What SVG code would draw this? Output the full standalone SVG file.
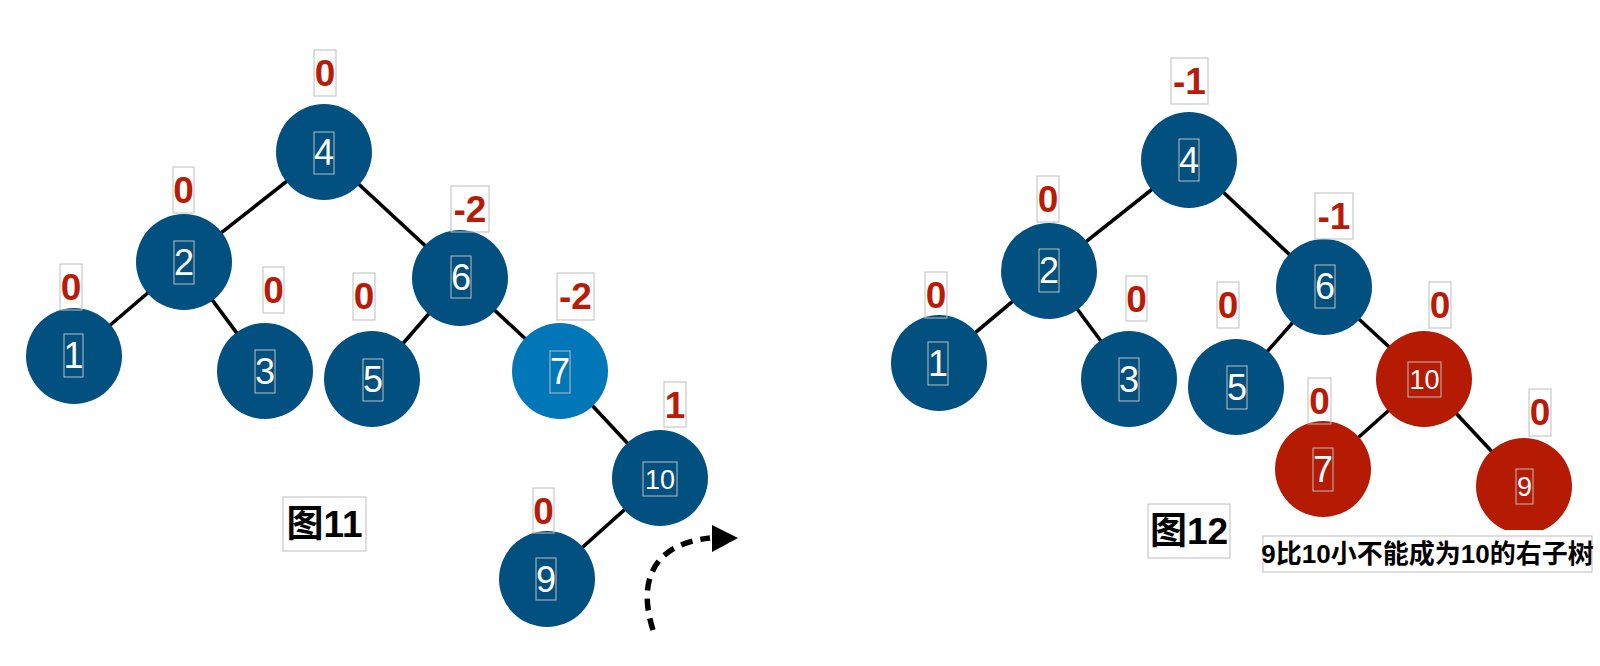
<svg xmlns="http://www.w3.org/2000/svg" width="1600" height="666" viewBox="0 0 1600 666">
<defs>
<style>
.n{fill:#02507f}
.nl{fill:#0277b8}
.nr{fill:#b51a02}
.t{font-family:"Liberation Sans",Arial,sans-serif;fill:#fff;font-size:36px;text-anchor:middle}
.ts{font-size:27px}
.b{font-family:"Liberation Sans",Arial,sans-serif;fill:#b81c08;font-size:37px;font-weight:bold;text-anchor:middle}
.bx{fill:none;stroke:#bdbdbd;stroke-width:1}
.e line{stroke:#000;stroke-width:3.6;stroke-linecap:butt}
.cap{font-family:"Liberation Sans","Noto Sans CJK SC",sans-serif;font-weight:bold;fill:#000;text-anchor:middle}
</style>
<clipPath id="clip9"><rect x="1460" y="420" width="140" height="110"/></clipPath>
</defs>
<rect width="1600" height="666" fill="#fff"/>
<g id="connectors" class="e">
<line x1="324" y1="152" x2="184" y2="262"/>
<line x1="324" y1="152" x2="460" y2="278"/>
<line x1="184" y1="262" x2="74" y2="356"/>
<line x1="184" y1="262" x2="265" y2="371"/>
<line x1="460" y1="278" x2="372" y2="379"/>
<line x1="460" y1="278" x2="560" y2="371"/>
<line x1="560" y1="371" x2="660" y2="478"/>
<line x1="660" y1="478" x2="547" y2="579"/>
<line x1="1189" y1="160" x2="1049" y2="271"/>
<line x1="1189" y1="160" x2="1324" y2="287"/>
<line x1="1049" y1="271" x2="939" y2="363"/>
<line x1="1049" y1="271" x2="1129" y2="379"/>
<line x1="1324" y1="287" x2="1236" y2="387"/>
<line x1="1324" y1="287" x2="1424" y2="379"/>
<line x1="1424" y1="379" x2="1323" y2="469"/>
<line x1="1424" y1="379" x2="1524" y2="486"/>
</g>
<g id="rotation-arrow">
<path d="M653,630 C640,590 645,545 710,538" fill="none" stroke="#000" stroke-width="5.5" stroke-dasharray="12,8"/>
<path d="M712,525 L738,538 L712,552 z" fill="#000"/>
</g>
<!-- Left tree (图11) -->
<g id="L4"><circle class="n" cx="324" cy="152" r="48"/><rect class="bx" x="314" y="132" width="20" height="42"/><text class="t" x="324" y="165">4</text><rect class="bx" x="314" y="50" width="22" height="46"/><text class="b" x="325" y="86">0</text></g>
<g id="L2"><circle class="n" cx="184" cy="262" r="48"/><rect class="bx" x="174" y="241" width="20" height="43"/><text class="t" x="184" y="275">2</text><rect class="bx" x="173" y="167" width="21" height="46"/><text class="b" x="183.5" y="203">0</text></g>
<g id="L1"><circle class="n" cx="74" cy="356" r="48"/><rect class="bx" x="64" y="334" width="19" height="43"/><text class="t" x="73.5" y="368">1</text><rect class="bx" x="60" y="264" width="22" height="46"/><text class="b" x="71" y="300">0</text></g>
<g id="L3"><circle class="n" cx="265" cy="371" r="48"/><rect class="bx" x="255" y="350" width="20" height="43"/><text class="t" x="265" y="384">3</text><rect class="bx" x="263" y="267" width="21" height="46"/><text class="b" x="273.5" y="303">0</text></g>
<g id="L5"><circle class="n" cx="372" cy="379" r="48"/><rect class="bx" x="363" y="359" width="20" height="42"/><text class="t" x="373" y="392">5</text><rect class="bx" x="353" y="273" width="22" height="47"/><text class="b" x="364" y="309">0</text></g>
<g id="L6"><circle class="n" cx="460" cy="278" r="48"/><rect class="bx" x="451" y="256" width="20" height="42"/><text class="t" x="461" y="290">6</text><rect class="bx" x="451" y="186" width="38" height="46"/><text class="b" x="470" y="222">-2</text></g>
<g id="L7"><circle class="nl" cx="560" cy="371" r="48"/><rect class="bx" x="550" y="351" width="20" height="42"/><text class="t" x="560" y="384">7</text><rect class="bx" x="557" y="273" width="37" height="47"/><text class="b" x="575.5" y="309">-2</text></g>
<g id="L10"><circle class="n" cx="660" cy="478" r="48"/><rect class="bx" x="643" y="462" width="34" height="34"/><text class="t ts" x="660" y="489">10</text><rect class="bx" x="664" y="382" width="22" height="45"/><text class="b" x="675" y="418">1</text></g>
<g id="L9"><circle class="n" cx="547" cy="579" r="48"/><rect class="bx" x="536" y="558" width="20" height="42"/><text class="t" x="546" y="592">9</text><rect class="bx" x="533" y="488" width="21" height="45"/><text class="b" x="543.5" y="524">0</text></g>
<g id="cap11"><rect class="bx" x="283" y="497" width="83" height="54"/><text class="cap" x="324.5" y="537" font-size="37">图11</text></g>
<!-- Right tree (图12) -->
<g id="R4"><circle class="n" cx="1189" cy="160" r="48"/><rect class="bx" x="1179" y="139" width="20" height="42"/><text class="t" x="1189" y="173">4</text><rect class="bx" x="1171" y="58" width="37" height="46"/><text class="b" x="1189.5" y="94">-1</text></g>
<g id="R2"><circle class="n" cx="1049" cy="271" r="48"/><rect class="bx" x="1039" y="249" width="20" height="43"/><text class="t" x="1049" y="283">2</text><rect class="bx" x="1037" y="176" width="22" height="46"/><text class="b" x="1048" y="212">0</text></g>
<g id="R1"><circle class="n" cx="939" cy="363" r="48"/><rect class="bx" x="928" y="342" width="20" height="43"/><text class="t" x="938" y="376">1</text><rect class="bx" x="925" y="272" width="22" height="46"/><text class="b" x="936" y="308">0</text></g>
<g id="R3"><circle class="n" cx="1129" cy="379" r="48"/><rect class="bx" x="1119" y="358" width="20" height="43"/><text class="t" x="1129" y="392">3</text><rect class="bx" x="1126" y="276" width="21" height="45"/><text class="b" x="1136.5" y="312">0</text></g>
<g id="R5"><circle class="n" cx="1236" cy="387" r="48"/><rect class="bx" x="1227" y="366" width="20" height="43"/><text class="t" x="1237" y="400">5</text><rect class="bx" x="1217" y="282" width="22" height="46"/><text class="b" x="1228" y="318">0</text></g>
<g id="R6"><circle class="n" cx="1324" cy="287" r="48"/><rect class="bx" x="1315" y="265" width="20" height="43"/><text class="t" x="1325" y="299">6</text><rect class="bx" x="1315" y="193" width="38" height="46"/><text class="b" x="1334" y="229">-1</text></g>
<g id="R10"><circle class="nr" cx="1424" cy="379" r="48"/><rect class="bx" x="1408" y="362" width="33" height="35"/><text class="t ts" x="1424.5" y="389">10</text><rect class="bx" x="1429" y="282" width="22" height="46"/><text class="b" x="1440" y="318">0</text></g>
<g id="R7"><circle class="nr" cx="1323" cy="469" r="48"/><rect class="bx" x="1313" y="448" width="20" height="43"/><text class="t" x="1323" y="482">7</text><rect class="bx" x="1308" y="378" width="23" height="46"/><text class="b" x="1319.5" y="414">0</text></g>
<g id="R9"><circle class="nr" cx="1524" cy="486" r="48" clip-path="url(#clip9)"/><rect class="bx" x="1516" y="469" width="17" height="35"/><text class="t ts" x="1524.5" y="496">9</text><rect class="bx" x="1529" y="389" width="22" height="47"/><text class="b" x="1540" y="425">0</text></g>
<g id="cap12"><rect class="bx" x="1148" y="504" width="82" height="54"/><text class="cap" x="1189" y="544" font-size="37">图12</text></g>
<g id="note"><rect class="bx" x="1263" y="536" width="329" height="36"/><text class="cap" x="1427.5" y="563" font-size="26">9比10小不能成为10的右子树</text></g>
</svg>
